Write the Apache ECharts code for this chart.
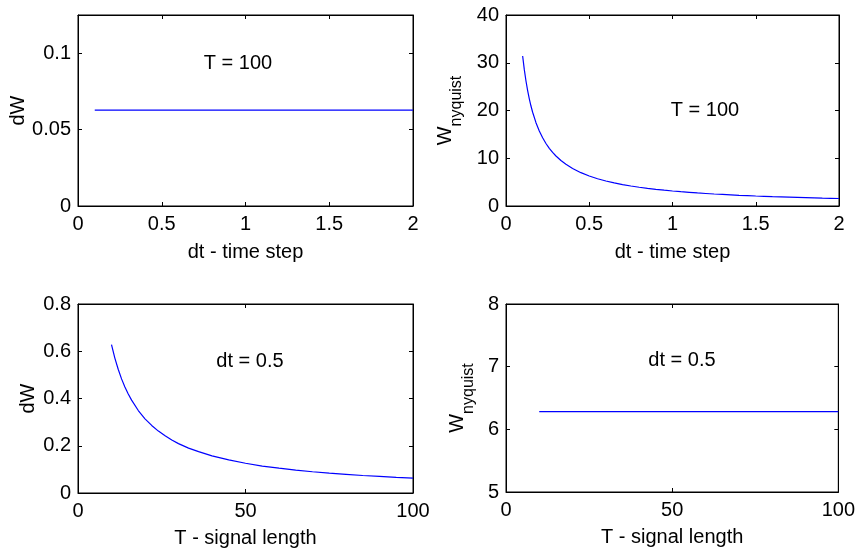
<!DOCTYPE html>
<html>
<head>
<meta charset="utf-8">
<script src="https://cdn.jsdelivr.net/npm/echarts@6/dist/echarts.min.js"></script>
<style>html,body{margin:0;padding:0;background:#fff}#c{width:858px;height:553px}</style>
</head>
<body>
<div id="c"></div>
<script>
// ---- data ----
const dtValues = [0.10,0.11,0.12,0.13,0.14,0.15,0.16,0.18,0.20,0.22,0.24,0.26,0.28,0.30,0.33,0.36,0.40,0.45,0.50,0.55,0.60,0.65,0.70,0.75,0.80,0.85,0.90,0.95,1.00,1.05,1.10,1.15,1.20,1.25,1.30,1.35,1.40,1.45,1.50,1.55,1.60,1.65,1.70,1.75,1.80,1.85,1.90,1.95,2.00];
const dWvsDt = [0.0628,0.0628,0.0628,0.0628,0.0628,0.0628,0.0628,0.0628,0.0628,0.0628,0.0628,0.0628,0.0628,0.0628,0.0628,0.0628,0.0628,0.0628,0.0628,0.0628,0.0628,0.0628,0.0628,0.0628,0.0628,0.0628,0.0628,0.0628,0.0628,0.0628,0.0628,0.0628,0.0628,0.0628,0.0628,0.0628,0.0628,0.0628,0.0628,0.0628,0.0628,0.0628,0.0628,0.0628,0.0628,0.0628,0.0628,0.0628,0.0628];
const wNyqVsDt = [31.42,28.56,26.18,24.17,22.44,20.94,19.63,17.45,15.71,14.28,13.09,12.08,11.22,10.47,9.52,8.73,7.85,6.98,6.28,5.71,5.24,4.83,4.49,4.19,3.93,3.70,3.49,3.31,3.14,2.99,2.86,2.73,2.62,2.51,2.42,2.33,2.24,2.17,2.09,2.03,1.96,1.90,1.85,1.80,1.75,1.70,1.65,1.61,1.57];
const TValues = [10,11,12,13,14,15,16,18,20,22,24,26,28,30,33,36,40,45,50,55,60,65,70,75,80,85,90,95,100];
const dWvsT = [0.628,0.571,0.524,0.483,0.449,0.419,0.393,0.349,0.314,0.286,0.262,0.242,0.224,0.209,0.190,0.175,0.157,0.140,0.126,0.114,0.105,0.097,0.090,0.084,0.079,0.074,0.070,0.066,0.063];
const wNyqVsT = [6.283,6.283,6.283,6.283,6.283,6.283,6.283,6.283,6.283,6.283,6.283,6.283,6.283,6.283,6.283,6.283,6.283,6.283,6.283,6.283,6.283,6.283,6.283,6.283,6.283,6.283,6.283,6.283,6.283];
const xLabelDt = 'dt - time step';
const xLabelT = 'T - signal length';
const annotDt = 'T = 100';
const annotT = 'dt = 0.5';

const FONT = 'Liberation Sans, Arial, sans-serif';
const grids = [
  {left: 78, top: 15, width: 335, height: 191},
  {left: 506, top: 15, width: 333, height: 191},
  {left: 78, top: 304, width: 335, height: 189},
  {left: 506, top: 304, width: 333, height: 188}
];
const axDefs = [
  {x: [0, 2, 0.5], y: [0, 0.125, 0.05], xName: xLabelDt, yName: 'dW', yGap: 48, xGap: 36},
  {x: [0, 2, 0.5], y: [0, 40, 10], xName: xLabelDt, yName: '{w|W}{s|nyquist}', yGap: 41, xGap: 36},
  {x: [0, 100, 50], y: [0, 0.8, 0.2], xName: xLabelT, yName: 'dW', yGap: 40, xGap: 35},
  {x: [0, 100, 50], y: [5, 8, 1], xName: xLabelT, yName: '{w|W}{s|nyquist}', yGap: 29, xGap: 35}
];
const lineStyle = {color: '#000', width: 1};
const xAxis = [], yAxis = [];
axDefs.forEach((d, i) => {
  const common = {type: 'value', gridIndex: i, splitLine: {show: false}, axisLine: {show: true, onZero: false, lineStyle}, axisTick: {show: true, inside: true, length: 4, lineStyle}};
  xAxis.push(Object.assign({}, common, {position: 'bottom', min: d.x[0], max: d.x[1], interval: d.x[2],
    axisLabel: {fontSize: 20, fontFamily: FONT, color: '#000', margin: 8},
    name: d.xName, nameLocation: 'middle', nameGap: d.xGap, nameTextStyle: {fontSize: 20, fontFamily: FONT, color: '#000'}}));
  xAxis.push(Object.assign({}, common, {position: 'top', min: d.x[0], max: d.x[1], interval: d.x[2], axisLabel: {show: false}}));
  yAxis.push(Object.assign({}, common, {position: 'left', min: d.y[0], max: d.y[1], interval: d.y[2],
    axisLabel: {fontSize: 20, fontFamily: FONT, color: '#000', margin: 7, showMaxLabel: d.y[1] % d.y[2] === 0 ? true : false},
    name: d.yName, nameLocation: 'middle', nameRotate: 90, nameGap: d.yGap,
    nameTextStyle: {fontSize: 20, fontFamily: FONT, color: '#000',
      rich: {w: {fontSize: 20, fontFamily: FONT, color: '#000', lineHeight: 20, verticalAlign: 'top'},
             s: {fontSize: 16, fontFamily: FONT, color: '#000', lineHeight: 30, verticalAlign: 'bottom'}}}}));
  yAxis.push(Object.assign({}, common, {position: 'right', min: d.y[0], max: d.y[1], interval: d.y[2], axisLabel: {show: false}}));
});
function pairs(xs, ys) { return xs.map((x, k) => [x, ys[k]]); }
const seriesData = [pairs(dtValues, dWvsDt), pairs(dtValues, wNyqVsDt), pairs(TValues, dWvsT), pairs(TValues, wNyqVsT)];
const series = seriesData.map((data, i) => ({
  type: 'line', xAxisIndex: i * 2, yAxisIndex: i * 2, data, showSymbol: false, symbol: 'none',
  lineStyle: {color: '#0000ff', width: 1.2}, animation: false, silent: true
}));
const annots = [[238, 63, annotDt], [705, 110, annotDt], [250, 361, annotT], [682, 360, annotT]];
const chart = echarts.init(document.getElementById('c'), null, {renderer: 'canvas'});
chart.setOption({
  animation: false,
  backgroundColor: '#fff',
  grid: grids.map(g => Object.assign({show: true, borderColor: '#000', borderWidth: 1, backgroundColor: '#fff'}, g)),
  xAxis, yAxis, series,
  graphic: annots.map(a => ({type: 'text', x: a[0], y: a[1], style: {text: a[2], fontSize: 20, fontFamily: FONT, fill: '#000', align: 'center', verticalAlign: 'middle'}}))
});
</script>
</body>
</html>
